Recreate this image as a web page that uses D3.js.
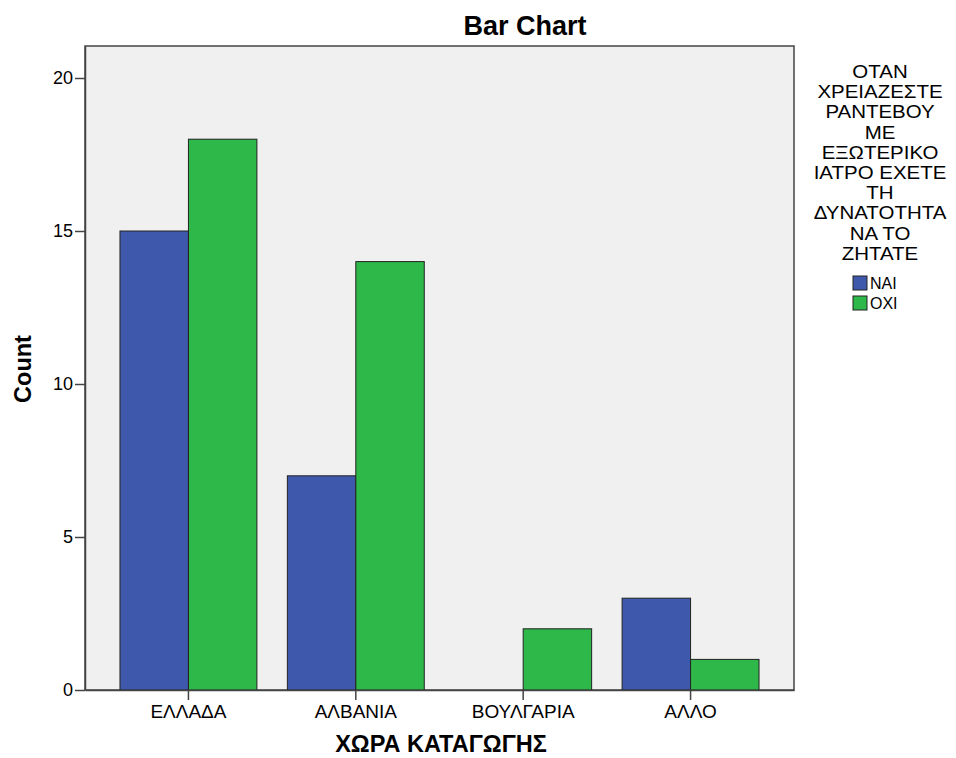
<!DOCTYPE html>
<html>
<head>
<meta charset="utf-8">
<script src="https://cdn.jsdelivr.net/npm/d3@7"></script>
<style>
  html, body { margin: 0; padding: 0; background: #ffffff; }
  svg text { font-family: "Liberation Sans", Arial, sans-serif; fill: #000; }
</style>
</head>
<body>
<svg id="chart" width="956" height="758"></svg>
<script>
const categories = ["ΕΛΛΑΔΑ", "ΑΛΒΑΝΙΑ", "ΒΟΥΛΓΑΡΙΑ", "ΑΛΛΟ"];
const seriesNames = ["ΝΑΙ", "ΟΧΙ"];
const naiValues = [15, 7, 0, 3];
const oxiValues = [18, 14, 2, 1];
const yTicks = [0, 5, 10, 15, 20];
const legendTitleLines = ["ΟΤΑΝ", "ΧΡΕΙΑΖΕΣΤΕ", "ΡΑΝΤΕΒΟΥ", "ΜΕ", "ΕΞΩΤΕΡΙΚΟ", "ΙΑΤΡΟ ΕΧΕΤΕ", "ΤΗ", "ΔΥΝΑΤΟΤΗΤΑ", "ΝΑ ΤΟ", "ΖΗΤΑΤΕ"];
const chartTitle = "Bar Chart";
const xTitle = "ΧΩΡΑ ΚΑΤΑΓΩΓΗΣ";
const yTitle = "Count";
const colors = ["#3e59ab", "#2eb84a"];

const svg = d3.select("#chart");
const plot = { left: 85, right: 794, top: 46, bottom: 690 };
const FONT = "'Liberation Sans', Arial, sans-serif";

const x0 = d3.scaleBand().domain(categories)
  .range([plot.left, plot.right]).paddingInner(0.182).paddingOuter(0.209);
const x1 = d3.scaleBand().domain(seriesNames).range([0, x0.bandwidth()]);
const y = d3.scaleLinear().domain([0, 20 * (plot.bottom - plot.top) / (690 - 78)]).range([plot.bottom, plot.top]);

// plot background
svg.append("rect")
  .attr("x", plot.left).attr("y", plot.top)
  .attr("width", plot.right - plot.left).attr("height", plot.bottom - plot.top)
  .attr("fill", "#f0f0f0").attr("stroke", "#444").attr("stroke-width", 1.5);

// bars
const data = categories.map((c, i) => ({ cat: c, vals: [naiValues[i], oxiValues[i]] }));
const g = svg.append("g");
data.forEach(d => {
  d.vals.forEach((v, j) => {
    if (v <= 0) return;
    g.append("rect")
      .attr("x", x0(d.cat) + x1(seriesNames[j]))
      .attr("y", y(v))
      .attr("width", x1.bandwidth())
      .attr("height", y(0) - y(v))
      .attr("fill", colors[j])
      .attr("stroke", "#222").attr("stroke-width", 1);
  });
});

// y axis
const yAxis = d3.axisLeft(y).tickValues(yTicks).tickSize(10).tickSizeOuter(0).tickPadding(2).tickFormat(d3.format("d"));
const ya = svg.append("g").attr("transform", `translate(${plot.left},0)`).call(yAxis);
ya.select(".domain").attr("stroke", "#444").attr("stroke-width", 1.5);
ya.selectAll(".tick line").attr("stroke", "#444").attr("stroke-width", 1.5);
ya.selectAll(".tick text").attr("font-size", 18).attr("fill", "#222").style("font-family", FONT);

// x axis
const xAxis = d3.axisBottom(x0).tickSize(10).tickSizeOuter(0).tickPadding(6);
const xa = svg.append("g").attr("transform", `translate(0,${plot.bottom})`).call(xAxis);
xa.select(".domain").attr("stroke", "#444").attr("stroke-width", 1.5);
xa.selectAll(".tick line").attr("stroke", "#444").attr("stroke-width", 1.5);
xa.selectAll(".tick text").attr("font-size", 19).attr("fill", "#222").attr("dy", null)
  .attr("y", 28).style("font-family", FONT);

// titles
svg.append("text").attr("x", 525).attr("y", 35).attr("text-anchor", "middle")
  .attr("font-size", 27).attr("font-weight", "bold").text(chartTitle);
svg.append("text").attr("x", 441).attr("y", 752).attr("text-anchor", "middle")
  .attr("font-size", 23.5).attr("font-weight", "bold").text(xTitle);
svg.append("text").attr("transform", "translate(31,369) rotate(-90)").attr("text-anchor", "middle")
  .attr("font-size", 23.5).attr("font-weight", "bold").text(yTitle);

// legend
const lg = svg.append("g");
legendTitleLines.forEach((t, i) => {
  lg.append("text")
    .attr("transform", `translate(880,${78 + i * 20.2}) scale(1.17,1.1)`)
    .attr("text-anchor", "middle")
    .attr("font-size", 17.5).attr("fill", "#222").text(t);
});
seriesNames.forEach((s, i) => {
  lg.append("rect").attr("x", 853).attr("y", 276 + i * 20).attr("width", 14).attr("height", 14)
    .attr("fill", colors[i]).attr("stroke", "#222").attr("stroke-width", 1);
  lg.append("text").attr("x", 870).attr("y", 289 + i * 20).attr("font-size", 16).attr("fill", "#222").text(s);
});
</script>
</body>
</html>
